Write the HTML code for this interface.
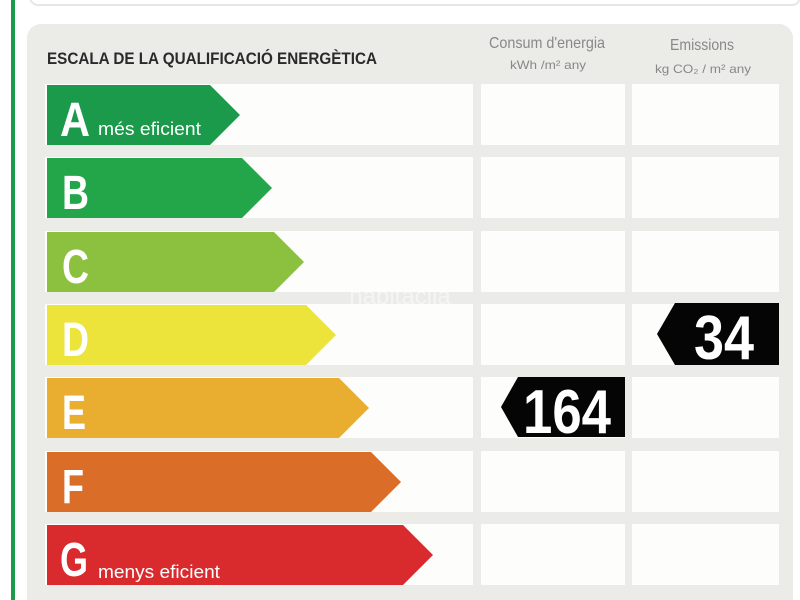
<!DOCTYPE html>
<html><head><meta charset="utf-8"><style>html,body{margin:0;padding:0;background:#fff;}svg{display:block}</style></head><body>
<svg width="800" height="600" viewBox="0 0 800 600" xmlns="http://www.w3.org/2000/svg" font-family="'Liberation Sans Narrow','Liberation Sans',sans-serif">
<rect width="800" height="600" fill="#fff"/>
<rect x="30" y="-20" width="770" height="25" rx="8" fill="#fff" stroke="#e6e6e4" stroke-width="2"/>
<rect x="11" y="0" width="4" height="600" fill="#1e9a4c"/>
<rect x="27" y="24" width="766" height="600" rx="14" fill="#ebebe8"/>
<text x="47" y="64" font-size="17" font-weight="bold" fill="#2a2a2a" textLength="330" lengthAdjust="spacingAndGlyphs">ESCALA DE LA QUALIFICACIÓ ENERGÈTICA</text>
<text x="547" y="48" font-size="16" fill="#888" text-anchor="middle" textLength="116" lengthAdjust="spacingAndGlyphs">Consum d'energia</text>
<text x="548" y="69" font-size="12" fill="#888" text-anchor="middle" textLength="76" lengthAdjust="spacingAndGlyphs">kWh /m² any</text>
<text x="702" y="50" font-size="16" fill="#888" text-anchor="middle" textLength="64" lengthAdjust="spacingAndGlyphs">Emissions</text>
<text x="703" y="73" font-size="12" fill="#888" text-anchor="middle" textLength="96" lengthAdjust="spacingAndGlyphs">kg CO₂ / m² any</text>
<g fill="#fdfdfb">
<rect x="45" y="84" width="428" height="61"/><rect x="481" y="84" width="144" height="61"/><rect x="632" y="84" width="147" height="61"/>
<rect x="45" y="157" width="428" height="61"/><rect x="481" y="157" width="144" height="61"/><rect x="632" y="157" width="147" height="61"/>
<rect x="45" y="231" width="428" height="61"/><rect x="481" y="231" width="144" height="61"/><rect x="632" y="231" width="147" height="61"/>
<rect x="45" y="304" width="428" height="61"/><rect x="481" y="304" width="144" height="61"/><rect x="632" y="304" width="147" height="61"/>
<rect x="45" y="377" width="428" height="61"/><rect x="481" y="377" width="144" height="61"/><rect x="632" y="377" width="147" height="61"/>
<rect x="45" y="451" width="428" height="61"/><rect x="481" y="451" width="144" height="61"/><rect x="632" y="451" width="147" height="61"/>
<rect x="45" y="524" width="428" height="61"/><rect x="481" y="524" width="144" height="61"/><rect x="632" y="524" width="147" height="61"/>
</g>
<polygon points="47,85 210,85 240,115 210,145 47,145" fill="#1b9a4b"/>
<polygon points="47,158 242,158 272,188 242,218 47,218" fill="#23a64a"/>
<polygon points="47,232 274,232 304,262 274,292 47,292" fill="#8cc03f"/>
<polygon points="47,305 306,305 336,335 306,365 47,365" fill="#ece43a"/>
<polygon points="47,378 339,378 369,408 339,438 47,438" fill="#e9ae2f"/>
<polygon points="47,452 371,452 401,482 371,512 47,512" fill="#da6d28"/>
<polygon points="47,525 403,525 433,555 403,585 47,585" fill="#d92a2e"/>
<g fill="#fff" font-weight="bold" font-size="48">
<text x="60" y="136" textLength="30" lengthAdjust="spacingAndGlyphs">A</text>
<text x="62" y="209" textLength="27" lengthAdjust="spacingAndGlyphs">B</text>
<text x="62" y="283" textLength="27" lengthAdjust="spacingAndGlyphs">C</text>
<text x="62" y="356" textLength="27" lengthAdjust="spacingAndGlyphs">D</text>
<text x="62" y="429" textLength="24" lengthAdjust="spacingAndGlyphs">E</text>
<text x="62" y="503" textLength="22" lengthAdjust="spacingAndGlyphs">F</text>
<text x="60" y="576" textLength="28" lengthAdjust="spacingAndGlyphs">G</text>
</g>
<text x="98" y="135" font-size="18" fill="#fff" textLength="103" lengthAdjust="spacingAndGlyphs">més eficient</text>
<text x="98" y="578" font-size="18" fill="#fff" textLength="122" lengthAdjust="spacingAndGlyphs">menys eficient</text>
<polygon points="675,303 779,303 779,365 675,365 657,334" fill="#050505"/>
<text x="724" y="359" font-size="62" font-weight="bold" fill="#fff" text-anchor="middle" textLength="60" lengthAdjust="spacingAndGlyphs">34</text>
<polygon points="518,377 625,377 625,437 518,437 501,407" fill="#050505"/>
<text x="567" y="433" font-size="62" font-weight="bold" fill="#fff" text-anchor="middle" textLength="88" lengthAdjust="spacingAndGlyphs">164</text>
<text x="400" y="304" font-size="24" fill="#fff" opacity="0.5" text-anchor="middle">habitaclia</text>
</svg>
</body></html>
